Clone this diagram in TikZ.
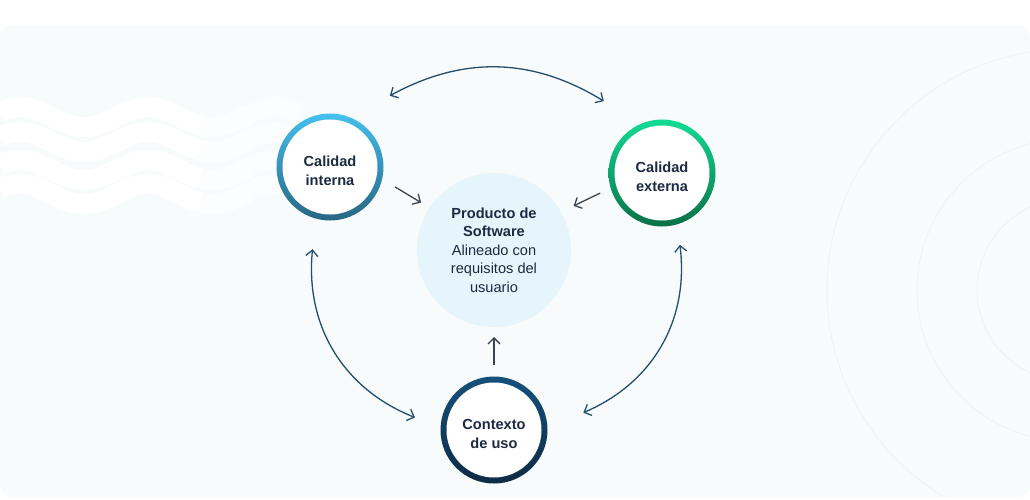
\documentclass[tikz,border=0pt]{standalone}
\usepackage{fontspec}
\setmainfont{Liberation Sans}
\usepackage{tikz}
\usetikzlibrary{calc,arrows.meta}
\definecolor{inkblue}{HTML}{1C2B42}
\definecolor{arcblue}{HTML}{234E6E}
\definecolor{tipgrey}{HTML}{3A4352}
\definecolor{panel}{HTML}{F8FBFC}
\definecolor{prodfill}{HTML}{E6F4FB}
\definecolor{ringline}{HTML}{EEF3F5}
\definecolor{intop}{HTML}{45C0EE}
\definecolor{inbot}{HTML}{276683}
\definecolor{extop}{HTML}{12DB94}
\definecolor{exbot}{HTML}{0B7146}
\definecolor{ustop}{HTML}{15517B}
\definecolor{usbot}{HTML}{0D2B45}
\tikzset{x=1pt, y=1pt,
    quality/.style={circle, minimum size=107pt, inner sep=0pt,
           path picture={\fill[white] (path picture bounding box.center) circle (47.5pt);}},
    quality text/.style={align=center, inner sep=0pt, yshift=-4pt,
           text=inkblue, font=\bfseries\fontsize{14.6}{19}\selectfont},
    product/.style={circle, minimum size=154pt, inner sep=0pt, align=center,
           fill=prodfill, text=inkblue, font=\fontsize{14.6}{18.5}\selectfont},
    loop arrow/.style={draw=arcblue, line width=1.3pt, {Straight Barb[length=6pt,width=12pt]}-{Straight Barb[length=6pt,width=12pt]}},
    feed arrow/.style={draw=tipgrey, line width=1.3pt, -{Straight Barb[length=6pt,width=12pt]}},
    wave/.style={draw=white, line width=20pt, opacity=#1}
    }
\def\Quality#1#2#3#4#5{%
  \node[quality, top color=#3, bottom color=#4,
        label={[quality text]center:#5}] (#1) at (#2) {};
}
\def\Wave#1{%
  \foreach \s/\e/\o in {0/200/1,200/250/0.7,250/300/0.35}
    {\draw[wave=\o] plot[domain=\s:\e, samples=40] (\x, {#1 + 10*cos(2.8125*(\x-20))});}
}

\begin{document}
\begin{tikzpicture}
\useasboundingbox (0,0) rectangle (1030,499);
\fill[white] (0,0) rectangle (1030,499);
\fill[panel, rounded corners=12pt] (0,2) rectangle (1030,474);
\begin{scope}
  \clip[rounded corners=12pt] (0,2) rectangle (1030,474);
  \foreach \r in {91,151,241}
    \draw[ringline, line width=1pt] (1068,209) circle (\r);
  \foreach \y in {382,357,329,305}
    {\Wave{\y}}
\end{scope}

\Quality{ci}{330,332}{intop}{inbot}{Calidad\\interna}
\Quality{ce}{662,326}{extop}{exbot}{Calidad\\externa}
\Quality{cu}{494,69}{ustop}{usbot}{Contexto\\de uso}
\node[product] (pr) at (494,249) {\textbf{Producto de}\\\textbf{Software}\\Alineado con\\requisitos del\\usuario};

\coordinate (t1) at ($(ci)+(50:93)$);
\coordinate (t2) at ($(ce)+(129:92.5)$);
\coordinate (l1) at ($(ci)+(258:84)$);
\coordinate (l2) at ($(cu)+(171:80)$);
\coordinate (r1) at ($(ce)+(284:74)$);
\coordinate (r2) at ($(cu)+(11:91)$);
\coordinate (a1) at ($(ci)+(-17:68)$);
\coordinate (a2) at ($(pr)+(147:87)$);
\coordinate (b1) at ($(ce)+(198:65)$);
\coordinate (b2) at ($(pr)+(29:91)$);
\coordinate (c1) at ($(cu)+(90:65)$);
\coordinate (c2) at ($(pr)+(270:87)$);

\draw[loop arrow] (t1) to[bend left=30] (t2);
\draw[loop arrow] (l1) to[bend right=37] (l2);
\draw[loop arrow] (r1) to[bend left=37] (r2);
\draw[feed arrow] (a1) -- (a2);
\draw[feed arrow] (b1) -- (b2);
\draw[feed arrow] (c1) -- (c2);
\end{tikzpicture}
\end{document}
